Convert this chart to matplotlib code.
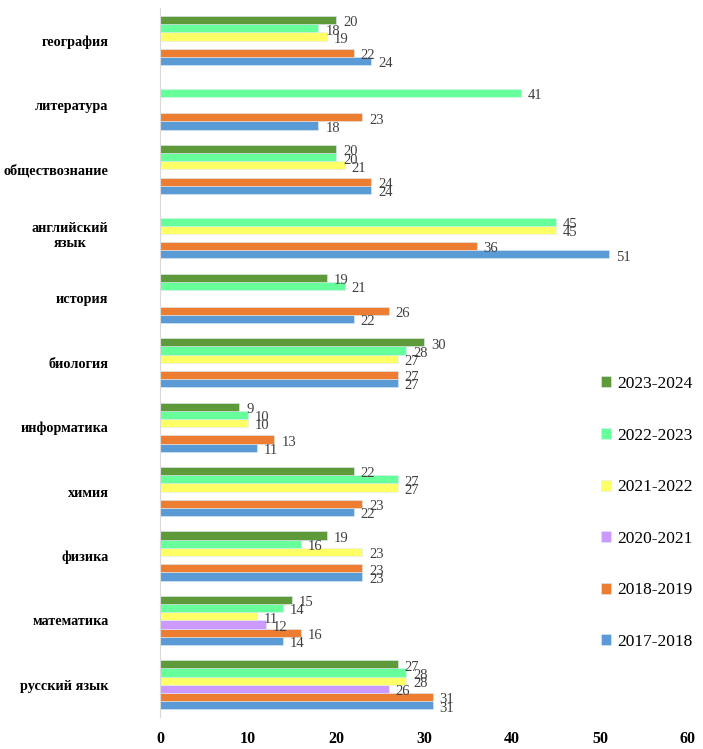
import numpy as np
import matplotlib.pyplot as plt

subjects = ['русский язык', 'математика', 'физика', 'химия', 'информатика',
            'биология', 'история', 'английский\nязык', 'обществознание',
            'литература', 'география']
years = ['2017-2018', '2018-2019', '2020-2021', '2021-2022', '2022-2023', '2023-2024']
colors = ['#5B9BD5', '#ED7D31', '#CC99FF', '#FFFF66', '#66FF99', '#5E9A3A']

nan = np.nan
v2017 = [31, 14, 23, 22, 11, 27, 22, 51, 24, 18, 24]
v2018 = [31, 16, 23, 23, 13, 27, 26, 36, 24, 23, 22]
v2020 = [26, 12, nan, nan, nan, nan, nan, nan, nan, nan, nan]
v2021 = [28, 11, 23, 27, 10, 27, nan, 45, 21, nan, 19]
v2022 = [28, 14, 16, 27, 10, 28, 21, 45, 20, 41, 18]
v2023 = [27, 15, 19, 22, 9, 30, 19, nan, 20, nan, 20]
series = [v2017, v2018, v2020, v2021, v2022, v2023]

plt.rcParams['font.family'] = ['Liberation Serif', 'DejaVu Serif']

fig = plt.figure(figsize=(7.03, 7.49), dpi=100)
ax = fig.add_axes([0.2276, 0.0427, 0.751, 0.946])

y = np.arange(len(subjects))
h = 0.127
handles = []
for j, (vals, yr, c) in enumerate(zip(series, years, colors)):
    vals = np.array(vals, dtype=float)
    pos = y + (j - 2.5) * h
    bars = ax.barh(pos, np.nan_to_num(vals), height=h, color=c,
                   edgecolor='#DDEBF7', linewidth=0.4, label=yr)
    handles.append(bars)
    for p, v in zip(pos, vals):
        if np.isnan(v):
            continue
        ax.annotate(f'{int(v)}', (v, p), xytext=(5, -2), textcoords='offset points',
                    va='center', ha='left', fontsize=10.5, color='#404040')

ax.set_yticks(y)
ax.set_yticklabels(subjects, fontsize=10.3, fontweight='bold', ha='right',
                   multialignment='center')
ax.tick_params(axis='y', length=0, pad=37)
ax.set_xlim(0, 60)
ax.set_ylim(-0.5, 10.5)
ax.set_xticks(range(0, 61, 10))
ax.tick_params(axis='x', length=0, pad=10, labelsize=11.5)
for t in ax.get_xticklabels():
    t.set_fontweight('bold')
for s in ['top', 'right', 'bottom']:
    ax.spines[s].set_visible(False)
ax.spines['left'].set_color('#D9D9D9')

fig.legend(handles[::-1], years[::-1], loc='center left',
           bbox_to_anchor=(0.832, 0.315), frameon=False, fontsize=12.5,
           handlelength=0.6, handleheight=0.6, handletextpad=0.35,
           labelspacing=2.05)

fig.savefig('out.png', dpi=100)
